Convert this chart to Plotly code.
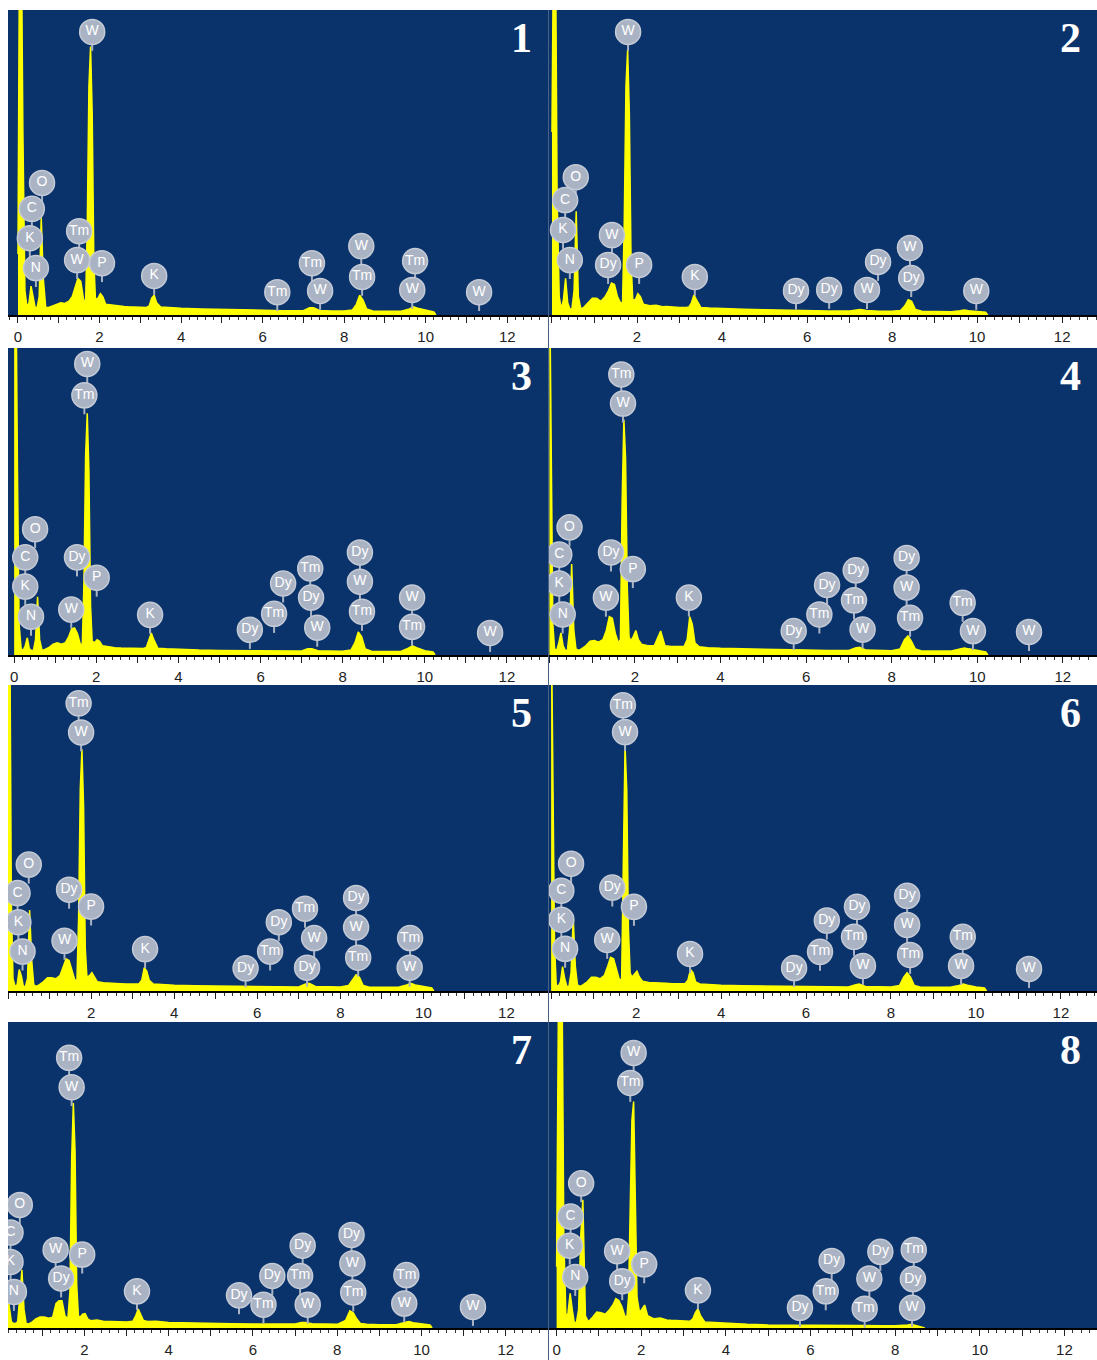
import plotly.graph_objects as go

# ---------------- data ----------------
energy = [0.00, 0.04, 0.08, 0.12, 0.17, 0.22, 0.27, 0.32, 0.37, 0.42,
          0.47, 0.52, 0.57, 0.62, 0.68, 0.75, 0.85, 0.95, 1.05, 1.15,
          1.25, 1.33, 1.40, 1.47, 1.54, 1.61, 1.66, 1.70, 1.74, 1.78,
          1.82, 1.86, 1.90, 1.96, 2.02, 2.08, 2.15, 2.30, 2.45, 2.60,
          2.70, 2.85, 3.00, 3.15, 3.22, 3.28, 3.34, 3.40, 3.50, 3.70,
          4.00, 4.50, 5.00, 5.50, 6.00, 6.50, 7.00, 7.15, 7.25, 7.40,
          7.70, 8.00, 8.20, 8.30, 8.38, 8.46, 8.55, 8.70, 9.00, 9.40,
          9.60, 9.70, 9.80, 10.00, 10.20, 10.25]

counts_1 = [20, 130, 130, 60, 8, 2.5, 4, 9.5, 6, 2.5,
            2.5, 6, 32, 12, 2.5, 2.5, 3, 3.5, 4, 3.8,
            4.5, 6, 9, 12, 11, 5, 4.5, 30, 75, 88,
            66, 18, 5, 5.5, 7, 6, 3.5, 3.2, 3, 2.8,
            2.7, 2.6, 2.5, 2.5, 3, 5.5, 6.5, 4, 2.6, 2.4,
            2.2, 2.0, 1.8, 1.6, 1.5, 1.4, 1.4, 2.4, 2.4, 1.5,
            1.3, 1.3, 1.6, 3.5, 6.5, 5, 2, 1.3, 1.2, 1.2,
            2, 2.7, 2.2, 1.5, 1.0, 0]
counts_2 = [60, 130, 130, 40, 6, 2, 5, 12, 4, 2,
            2, 8, 34, 6, 2, 2.5, 4, 5.5, 5.5, 4.5,
            6, 8, 10.5, 10, 6, 4, 4, 30, 75, 87,
            66, 18, 5, 5, 7, 6, 3.5, 3, 3.2, 2.7,
            2.8, 2.6, 2.5, 2.5, 2.6, 4, 6.6, 5, 2.5, 2.3,
            2.1, 1.9, 1.7, 1.5, 1.4, 1.3, 1.3, 1.6, 1.8, 1.5,
            1.2, 1.2, 1.5, 3, 5, 4.5, 1.8, 1.2, 1.1, 1.1,
            1.4, 1.6, 1.4, 1.2, 0.9, 0]
counts_3 = [130, 130, 60, 10, 2, 1.5, 3, 5.6, 2, 1.5,
            1.5, 5, 19, 5, 1.5, 1.8, 2.5, 3.5, 4, 3.5,
            4, 6, 8.5, 8.8, 7, 3.5, 3.5, 24, 65, 78.7,
            60, 16, 4.5, 4, 5, 4.5, 3, 2.6, 2.4, 2.3,
            2.3, 2.2, 2.1, 2.1, 2.5, 5, 7.2, 5, 2.2, 2,
            1.8, 1.6, 1.5, 1.4, 1.3, 1.3, 1.3, 2, 2, 1.4,
            1.2, 1.2, 1.6, 4, 7.5, 6, 2, 1.2, 1.1, 1.1,
            2.2, 3, 2.4, 1.4, 1.0, 0]
counts_4 = [130, 60, 10, 2, 1.5, 4, 7.2, 3, 1.5, 1.5,
            8, 29.6, 8, 2, 1.5, 2, 3, 4.5, 4.7, 4.2,
            5, 8, 12.5, 12, 7, 4, 5, 50, 76.7, 64,
            22, 6, 4.5, 6, 8, 5, 3.5, 3, 3, 7.8,
            3, 2.8, 2.7, 2.8, 5, 12.5, 10, 4, 2.7, 2.4,
            2.2, 2, 1.8, 1.7, 1.6, 1.5, 1.5, 2.3, 2.5, 1.6,
            1.4, 1.4, 2, 5, 6.2, 4.5, 2, 1.3, 1.3, 1.3,
            2, 2.3, 2, 1.5, 1.0, 0]
counts_5 = [130, 130, 30, 4, 1.5, 2, 7, 5, 1.5, 1.5,
            4, 26.5, 10, 2, 1.5, 2, 3, 4.3, 4.3, 4,
            5, 8, 10.5, 10, 7, 3.5, 3.5, 24, 66, 79,
            60, 14, 4.5, 5, 6, 4.5, 3, 2.7, 2.5, 2.5,
            2.4, 2.3, 2.2, 2.3, 3.5, 7.6, 6.5, 3.5, 2.3, 2.1,
            1.9, 1.7, 1.6, 1.5, 1.4, 1.3, 1.3, 2.2, 2.5, 1.5,
            1.3, 1.3, 1.8, 4, 5.3, 4.5, 1.8, 1.2, 1.2, 1.2,
            2, 2.5, 2, 1.4, 1.0, 0]
counts_6 = [130, 80, 15, 2, 1.5, 3, 8, 4, 1.5, 1.5,
            6, 24, 8, 2, 1.5, 2, 3, 4.5, 4.5, 4,
            5, 8, 11, 10.5, 6.5, 3.5, 4, 45, 80, 66,
            20, 6, 4.5, 5.5, 6.5, 4.5, 3.2, 2.8, 2.6, 2.6,
            2.5, 2.4, 2.3, 2.4, 3.5, 7, 6, 3, 2.3, 2.1,
            1.9, 1.7, 1.6, 1.5, 1.4, 1.3, 1.3, 2, 2.3, 1.5,
            1.3, 1.3, 1.8, 4.5, 6, 4.5, 1.8, 1.2, 1.2, 1.2,
            1.8, 2.3, 1.9, 1.3, 1.0, 0]
counts_7 = [130, 130, 100, 40, 12, 6, 2, 1.5, 1.5, 2,
            10, 19, 6, 1.5, 1.3, 1.8, 3, 3.6, 3.6, 3.2,
            3.5, 8, 8.9, 8.9, 4, 3, 12, 55, 73.5, 58,
            14, 4, 3.5, 4.5, 4.7, 3, 2.4, 2.6, 2.2, 2.1,
            2, 2, 2, 2.2, 4, 6.2, 4.5, 2.5, 2.1, 2.2,
            1.8, 1.6, 1.5, 1.4, 1.3, 1.3, 1.3, 1.8, 1.8, 1.4,
            1.2, 1.2, 2.5, 5.6, 5, 3, 1.5, 1.2, 1.1, 1.1,
            1.8, 2.1, 1.7, 1.3, 1.0, 0]
counts_8 = [20, 100, 130, 130, 30, 3, 5, 11.3, 6, 1.5,
            2, 6, 30, 41.9, 4, 2, 3.5, 5.2, 5, 4.5,
            6, 7.5, 9.6, 9, 7, 4, 3.5, 10, 40, 68,
            74, 45, 10, 5, 6.5, 7.5, 4, 3, 3.3, 2.6,
            2.5, 2.4, 2.2, 2.2, 3, 5, 6.3, 4, 2, 1.8,
            1.5, 1.2, 1.0, 0.9, 0.8, 0.8, 0.7, 0.8, 0.8, 0.7,
            0.7, 0.7, 0.8, 1.0, 1.2, 1.0, 0.6, 0, None, None,
            None, None, None, None, None, None]

spectra = [counts_1, counts_2, counts_3, counts_4,
           counts_5, counts_6, counts_7, counts_8]
for s in spectra:
    assert len(s) == len(energy)

# peak labels: element, energy (keV), height (same units as counts)
labels_1 = ["W", "O", "C", "K", "N", "Tm", "W", "P", "K", "Tm", "Tm", "W", "W", "Tm", "Tm", "W", "W"]
lab_x_1 = [1.82, 0.59, 0.34, 0.29, 0.44, 1.50, 1.45, 2.06, 3.34, 6.36, 7.21, 7.41, 8.42, 8.44, 9.74, 9.67, 11.31]
lab_y_1 = [92.8, 43.3, 34.8, 25.2, 15.4, 27.5, 18.0, 17.0, 12.8, 7.5, 17.0, 7.9, 22.6, 12.5, 17.7, 8.2, 7.5]

labels_2 = ["W", "O", "C", "K", "N", "W", "Dy", "P", "K", "Dy", "Dy", "W", "Dy", "W", "Dy", "W"]
lab_x_2 = [1.79, 0.56, 0.31, 0.26, 0.42, 1.41, 1.32, 2.05, 3.36, 5.74, 6.52, 7.41, 7.67, 8.42, 8.45, 9.98]
lab_y_2 = [92.8, 45.2, 37.7, 27.9, 18.0, 26.2, 16.4, 16.4, 12.5, 7.9, 8.2, 8.2, 17.4, 22.0, 12.1, 7.9]

labels_3 = ["W", "Tm", "O", "C", "K", "N", "Dy", "P", "W", "K", "Dy", "Tm", "Dy", "Tm", "Dy", "W",
            "Dy", "W", "Tm", "W", "Tm", "W"]
lab_x_3 = [1.78, 1.71, 0.51, 0.27, 0.27, 0.41, 1.53, 2.01, 1.39, 3.31, 5.74, 6.33, 6.55, 7.21, 7.23, 7.38,
           8.42, 8.42, 8.47, 9.69, 9.69, 11.59]
lab_y_3 = [94.8, 84.6, 41.0, 31.8, 22.3, 12.5, 31.8, 25.2, 14.8, 13.1, 8.2, 13.4, 23.3, 28.2, 18.7, 8.9,
           33.4, 23.9, 14.1, 18.7, 9.2, 7.2]

labels_4 = ["Tm", "W", "O", "C", "K", "N", "Dy", "P", "W", "K", "Dy", "Tm", "Dy", "Dy", "Tm", "W",
            "Dy", "W", "Tm", "Tm", "W", "W"]
lab_x_4 = [1.68, 1.72, 0.47, 0.23, 0.23, 0.31, 1.44, 1.95, 1.32, 3.26, 5.71, 6.31, 6.49, 7.16, 7.12, 7.32,
           8.35, 8.35, 8.43, 9.66, 9.90, 11.21]
lab_y_4 = [91.4, 81.9, 41.6, 32.7, 23.3, 13.2, 33.4, 28.0, 18.7, 18.7, 7.8, 13.2, 22.8, 27.6, 17.8, 8.3,
           31.6, 22.0, 12.1, 17.0, 7.8, 7.5]

labels_5 = ["Tm", "W", "O", "C", "K", "N", "Dy", "P", "W", "K", "Dy", "Tm", "Dy", "Tm", "W", "Dy",
            "Dy", "W", "Tm", "Tm", "W"]
lab_x_5 = [1.70, 1.76, 0.50, 0.23, 0.25, 0.35, 1.47, 2.00, 1.36, 3.30, 5.72, 6.31, 6.52, 7.15, 7.37, 7.20,
           8.38, 8.38, 8.43, 9.68, 9.67]
lab_y_5 = [94.0, 84.5, 41.3, 32.0, 22.5, 12.9, 33.1, 27.6, 16.4, 13.7, 7.4, 12.9, 22.5, 26.9, 17.3, 7.6,
           30.4, 20.8, 10.9, 17.3, 7.6]

labels_6 = ["Tm", "W", "O", "C", "K", "N", "Dy", "P", "W", "K", "Dy", "Tm", "Dy", "Dy", "Tm", "W",
            "Dy", "W", "Tm", "Tm", "W", "W"]
lab_x_6 = [1.69, 1.74, 0.47, 0.24, 0.24, 0.33, 1.44, 1.95, 1.32, 3.27, 5.72, 6.33, 6.49, 7.20, 7.13, 7.34,
           8.38, 8.38, 8.45, 9.69, 9.65, 11.25]
lab_y_6 = [93.4, 84.6, 41.6, 32.8, 23.3, 13.8, 33.8, 27.5, 16.7, 12.1, 7.5, 12.8, 23.0, 27.5, 17.7, 8.2,
           31.1, 21.6, 11.8, 17.7, 8.2, 7.2]

labels_7 = ["Tm", "W", "O", "C", "K", "N", "W", "Dy", "P", "K", "Dy", "Tm", "Dy", "Dy", "Tm", "W",
            "Dy", "W", "Tm", "Tm", "W", "W"]
lab_x_7 = [1.64, 1.70, 0.47, 0.25, 0.25, 0.33, 1.32, 1.45, 1.95, 3.25, 5.67, 6.25, 6.46, 7.18, 7.12, 7.30,
           8.34, 8.36, 8.38, 9.64, 9.59, 11.22]
lab_y_7 = [88.3, 78.7, 40.2, 31.2, 21.6, 11.8, 25.5, 16.2, 24.0, 12.0, 10.7, 7.6, 17.0, 26.9, 17.0, 7.6,
           30.4, 21.1, 11.6, 17.3, 8.0, 6.9]

labels_8 = ["W", "Tm", "O", "C", "K", "N", "W", "Dy", "P", "K", "Dy", "Tm", "Dy", "Tm", "W", "Dy",
            "Tm", "Dy", "W"]
lab_x_8 = [1.82, 1.74, 0.58, 0.33, 0.31, 0.44, 1.43, 1.55, 2.07, 3.34, 5.75, 6.36, 6.50, 7.28, 7.39, 7.65,
           8.44, 8.42, 8.40]
lab_y_8 = [89.9, 80.1, 47.3, 36.4, 26.9, 16.7, 25.1, 15.3, 20.8, 12.3, 6.6, 12.0, 21.9, 6.3, 16.2, 24.9,
           25.5, 16.0, 6.6]

label_sets = [(labels_1, lab_x_1, lab_y_1), (labels_2, lab_x_2, lab_y_2),
              (labels_3, lab_x_3, lab_y_3), (labels_4, lab_x_4, lab_y_4),
              (labels_5, lab_x_5, lab_y_5), (labels_6, lab_x_6, lab_y_6),
              (labels_7, lab_x_7, lab_y_7), (labels_8, lab_x_8, lab_y_8)]

panel_names = ["1", "2", "3", "4", "5", "6", "7", "8"]
x_ranges = [[-0.245, 13.0], [-0.07, 12.82], [-0.15, 13.0], [-0.01, 12.8],
            [0.0, 13.0], [-0.05, 12.85], [0.19, 13.0], [-0.18, 12.77]]
show_zero = [True, False, True, False, False, False, False, True]
tick_vals = list(range(0, 13))

# ---------------- layout geometry (pixels) ----------------
W, H = 1097, 1360
col_px = [(8, 548), (549, 1097)]
row_px = [(10, 315), (348, 655), (685, 991), (1022, 1328)]

BG = "#09336a"
YELLOW = "#ffff00"
PIN = "#aab3c3"

fig = go.Figure()
layout = dict(
    width=W, height=H, margin=dict(l=0, r=0, t=0, b=0),
    paper_bgcolor="white", plot_bgcolor=BG, showlegend=False,
    annotations=[], shapes=[],
)

for i in range(8):
    r, c = divmod(i, 2)
    x0, x1 = col_px[c]
    ytop, ybot = row_px[r]
    xa = "xaxis" if i == 0 else f"xaxis{i+1}"
    ya = "yaxis" if i == 0 else f"yaxis{i+1}"
    xr = "x" if i == 0 else f"x{i+1}"
    yr = "y" if i == 0 else f"y{i+1}"
    ttext = [(str(v) if v % 2 == 0 else "") for v in tick_vals]
    if not show_zero[i]:
        ttext[0] = ""
    layout[xa] = dict(
        domain=[x0 / W, x1 / W], anchor=yr, range=x_ranges[i],
        showgrid=False, zeroline=False, showline=True, linecolor="black", linewidth=1.5,
        ticks="outside", ticklen=6, tickwidth=1.2, tickcolor="#222",
        tickvals=tick_vals, ticktext=ttext,
        minor=dict(dtick=0.2, ticks="outside", ticklen=3, tickwidth=1, tickcolor="#333"),
        tickfont=dict(family="Liberation Sans, Arial", size=15, color="#222"),
        ticklabelstandoff=1, fixedrange=True,
    )
    layout[ya] = dict(
        domain=[1 - ybot / H, 1 - ytop / H], anchor=xr, range=[0, 100],
        showgrid=False, zeroline=False, showticklabels=False, showline=False,
        ticks="", fixedrange=True,
    )

    # spectrum
    fig.add_trace(go.Scatter(
        x=energy, y=spectra[i], xaxis=xr, yaxis=yr, mode="lines",
        line=dict(color=YELLOW, width=1.5), fill="tozeroy", fillcolor=YELLOW,
        hoverinfo="skip",
    ))

    names, lx, ly = label_sets[i]
    sx, sy = [], []
    for xv, yv in zip(lx, ly):
        sx += [xv, xv, None]
        sy += [yv, yv - 6.2, None]
    fig.add_trace(go.Scatter(
        x=sx, y=sy, xaxis=xr, yaxis=yr, mode="lines",
        line=dict(color=PIN, width=2), hoverinfo="skip",
    ))
    fig.add_trace(go.Scatter(
        x=lx, y=ly, xaxis=xr, yaxis=yr, mode="markers+text",
        text=names, textposition="middle center",
        marker=dict(symbol="circle", size=25, color=PIN,
                    line=dict(color="#c4cad6", width=1.5)),
        textfont=dict(family="Liberation Sans, Arial", size=14, color="white"),
        hoverinfo="skip",
    ))

    layout["annotations"].append(dict(
        xref=f"{xr} domain", yref=f"{yr} domain", x=1 - 27 / (x1 - x0),
        y=1 - 28 / (ybot - ytop), xanchor="center", yanchor="middle",
        text=f"<b>{panel_names[i]}</b>", showarrow=False,
        font=dict(family="Liberation Serif, Times New Roman", size=42, color="white"),
    ))

# thin separator between the two columns
layout["shapes"].append(dict(type="line", xref="paper", yref="paper",
                             x0=548.5 / W, x1=548.5 / W, y0=0, y1=1 - 10 / H,
                             line=dict(color="#4a6284", width=1)))

fig.update_layout(**layout)
fig.write_html("out.html")
